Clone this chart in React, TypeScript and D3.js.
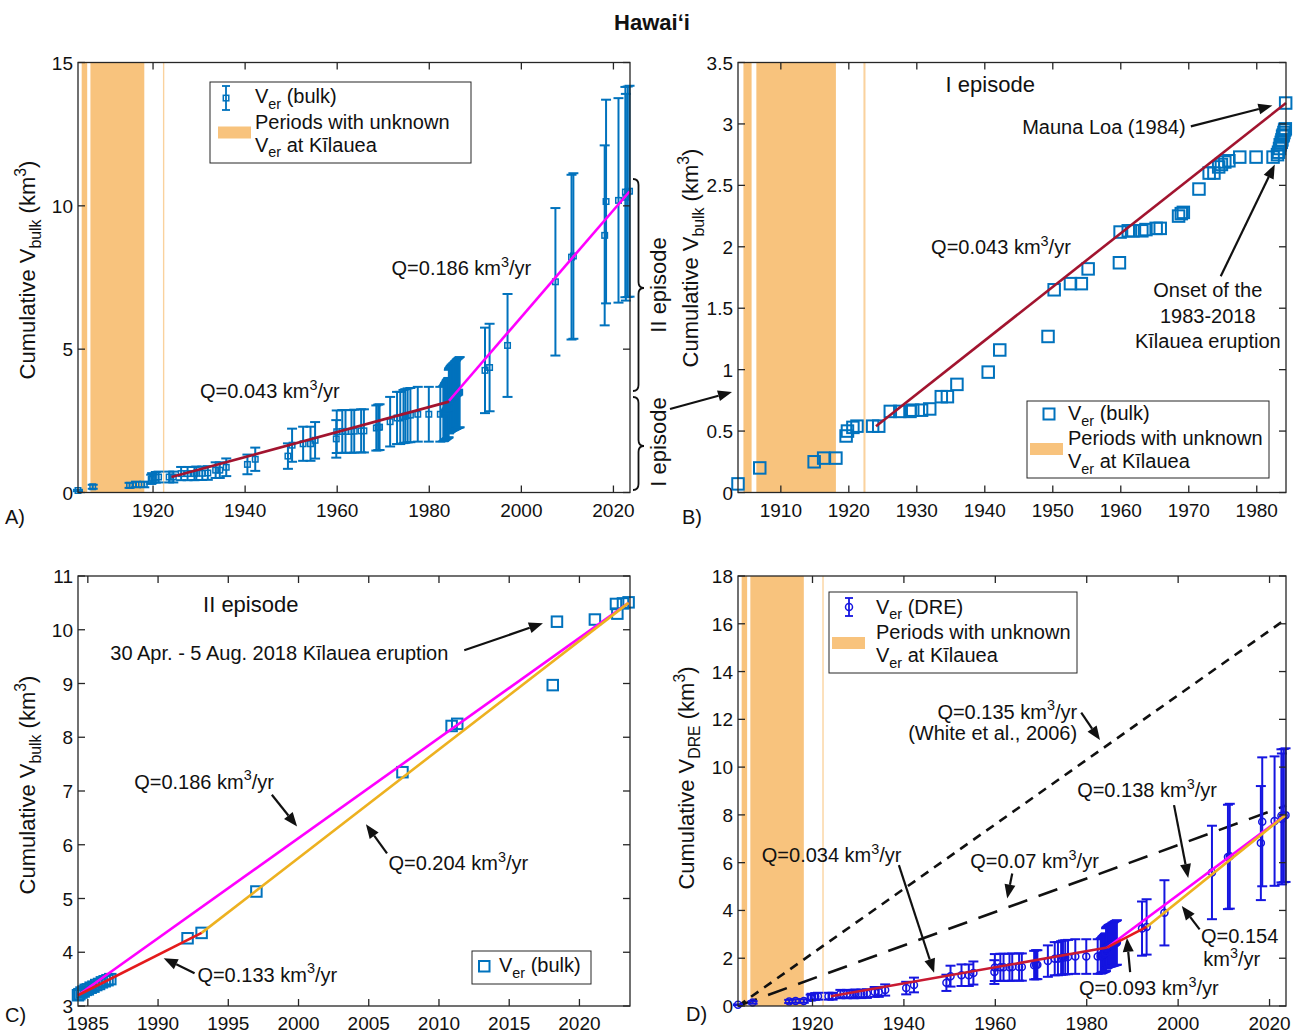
import React from 'react';
import * as d3 from 'd3';

const FONT = "'Liberation Sans', Arial, Helvetica, sans-serif";
const INK = '#111111';
const AXIS = '#262626';
const BLUE = '#0072bd';
const DRE_BLUE = '#1515e0';
const BAND = '#f8c37d';
const WINE = '#a2142f';
const MAGENTA = '#ff00ff';
const GOLD = '#edb120';
const RED = '#e41a1c';
const CRIMSON = '#c81a32';

// ---- data ----
// I episode, eruption year and cumulative volume (km3)
const ep1Year = [1903.7, 1906.9, 1914.9, 1916.3, 1918.1, 1919.6, 1919.8, 1920.6, 1921.2, 1923.5, 1924.4, 1926.1, 1927.5, 1929.0, 1929.4, 1930.7, 1931.9, 1933.6, 1934.5, 1935.9, 1940.5, 1942.2, 1949.3, 1950.2, 1952.6, 1954.2, 1955.2, 1959.8, 1959.9, 1961.1, 1961.8, 1963.1, 1963.7, 1965.2, 1965.8, 1968.5, 1968.9, 1969.2, 1971.5, 1973.0, 1973.7, 1974.4, 1974.8, 1975.3, 1975.9, 1977.5, 1979.9, 1982.4];
const ep1Bulk = [0.07, 0.20, 0.25, 0.28, 0.28, 0.46, 0.50, 0.53, 0.54, 0.54, 0.54, 0.66, 0.66, 0.66, 0.67, 0.67, 0.68, 0.78, 0.78, 0.88, 0.98, 1.16, 1.27, 1.65, 1.70, 1.70, 1.82, 1.87, 2.12, 2.13, 2.13, 2.13, 2.14, 2.15, 2.15, 2.25, 2.27, 2.28, 2.47, 2.60, 2.60, 2.65, 2.67, 2.69, 2.70, 2.73, 2.73, 2.73];
const ep1Dre = [0.05, 0.15, 0.19, 0.21, 0.21, 0.35, 0.38, 0.40, 0.41, 0.41, 0.41, 0.50, 0.50, 0.50, 0.51, 0.51, 0.52, 0.59, 0.59, 0.67, 0.75, 0.88, 0.97, 1.25, 1.29, 1.29, 1.38, 1.42, 1.61, 1.62, 1.62, 1.62, 1.63, 1.63, 1.63, 1.71, 1.73, 1.73, 1.88, 1.98, 1.98, 2.01, 2.03, 2.04, 2.05, 2.07, 2.07, 2.07];

// onset of the 1983-2018 Kilauea eruption + Mauna Loa 1984
const onsetYear = [1983.05, 1983.2, 1983.35, 1983.45, 1983.6, 1983.7, 1983.8, 1983.9, 1984.0, 1984.1, 1984.2, 1984.25];
const onsetBulk = [2.75, 2.77, 2.80, 2.83, 2.85, 2.87, 2.90, 2.91, 2.93, 2.95, 2.96, 3.17];
const onsetDre = [2.09, 2.11, 2.13, 2.15, 2.17, 2.18, 2.20, 2.21, 2.23, 2.24, 2.25, 2.41];

// II episode
const ep2Year = [1984.3, 1984.4, 1984.55, 1984.7, 1984.85, 1985.0, 1985.2, 1985.4, 1985.6, 1985.8, 1986.0, 1986.2, 1986.4, 1986.6, 1992.1, 1993.1, 1997.0, 2007.4, 2010.9, 2011.3, 2018.1, 2018.4, 2021.1, 2022.6, 2022.7, 2023.1, 2023.5];
const ep2Bulk = [3.20, 3.22, 3.25, 3.27, 3.30, 3.31, 3.34, 3.36, 3.39, 3.41, 3.44, 3.46, 3.48, 3.50, 4.26, 4.36, 5.13, 7.35, 8.21, 8.25, 8.97, 10.15, 10.19, 10.48, 10.30, 10.49, 10.51];
const ep2Dre = [2.43, 2.45, 2.47, 2.49, 2.51, 2.52, 2.54, 2.55, 2.58, 2.59, 2.61, 2.63, 2.64, 2.66, 3.24, 3.31, 3.90, 5.59, 6.24, 6.27, 6.82, 7.71, 7.74, 7.96, 7.83, 7.97, 7.99];

const UNC = 0.35; // half length of the error bars, relative to the volume

// periods with unknown Ver at Kilauea
const gapStart = [1904.5, 1906.4, 1922.15];
const gapEnd = [1905.7, 1918.1, 1922.45];

// fitted trends [year, volume]
const fitBulkEp1 = [[1924.0, 0.54], [1984.3, 3.17]];
const fitBulkEp2 = [[1984.3, 3.20], [2023.5, 10.50]];
const fitBulk8493 = [[1984.3, 3.20], [1993.1, 4.36]];
const fitBulk9323 = [[1993.1, 4.36], [2023.5, 10.50]];
const fitDreEp1 = [[1924.0, 0.41], [1984.5, 2.45]];
const fitDre8493 = [[1984.5, 2.45], [1993.1, 3.31]];
const fitDreEp2 = [[1984.5, 2.45], [2023.5, 7.99]];
const fitDre9323 = [[1993.1, 3.31], [2023.5, 7.99]];
const white2006 = [[1903.7, 0], [2023.6, 16.2]];
const rate007 = [[1903.7, 0], [2023.6, 8.39]];

const ticksA = [1920, 1940, 1960, 1980, 2000, 2020];
const ticksAy = [0, 5, 10, 15];
const ticksB = [1910, 1920, 1930, 1940, 1950, 1960, 1970, 1980];
const ticksBy = [0, 0.5, 1, 1.5, 2, 2.5, 3, 3.5];
const ticksC = [1985, 1990, 1995, 2000, 2005, 2010, 2015, 2020];
const ticksCy = [3, 4, 5, 6, 7, 8, 9, 10, 11];
const ticksDy = [0, 2, 4, 6, 8, 10, 12, 14, 16, 18];

type S = d3.ScaleLinear<number, number>;
type Seg = { t: string; sub?: boolean; sup?: boolean };

const allYear = [...ep1Year, ...onsetYear, ...ep2Year];
const allBulk = [...ep1Bulk, ...onsetBulk, ...ep2Bulk];
const allDre = [...ep1Dre, ...onsetDre, ...ep2Dre];

function Rich({ x, y, segs, size = 20, anchor = 'start', weight = 'normal', transform }: any) {
  let cur = 0;
  return (
    <text x={x} y={y} fontSize={size} textAnchor={anchor} fontWeight={weight} fill={INK} fontFamily={FONT} transform={transform}>
      {(segs as Seg[]).map((s, i) => {
        const target = s.sub ? size * 0.28 : s.sup ? -size * 0.42 : 0;
        const dy = target - cur;
        cur = target;
        return (
          <tspan key={i} dy={dy} fontSize={s.sub || s.sup ? size * 0.72 : size}>{s.t}</tspan>
        );
      })}
    </text>
  );
}

const q = (v: string): Seg[] => [{ t: `Q=${v} km` }, { t: '3', sup: true }, { t: '/yr' }];
const ver = (rest: string): Seg[] => [{ t: 'V' }, { t: 'er', sub: true }, { t: rest }];
const yLab = (sub: string): Seg[] => [{ t: 'Cumulative V' }, { t: sub, sub: true }, { t: ' (km' }, { t: '3', sup: true }, { t: ')' }];

function Arrow({ x1, y1, x2, y2 }: any) {
  const a = Math.atan2(y2 - y1, x2 - x1);
  const L = 14, w = 5.5;
  const bx = x2 - L * Math.cos(a), by = y2 - L * Math.sin(a);
  const pts = [[x2, y2], [bx + w * Math.sin(a), by - w * Math.cos(a)], [bx - w * Math.sin(a), by + w * Math.cos(a)]];
  return (
    <g>
      <line x1={x1} y1={y1} x2={bx} y2={by} stroke={INK} strokeWidth={2.2} />
      <polygon points={pts.map(p => p.join(',')).join(' ')} fill={INK} />
    </g>
  );
}

const DArrow = ({ x, y, from, to }: any) => (
  <Arrow x1={x(from[0])} y1={y(from[1])} x2={x(to[0])} y2={y(to[1])} />
);

function Axes({ x, y, xTicks, yTicks }: { x: S; y: S; xTicks: number[]; yTicks: number[] }) {
  const [l, r] = x.range();
  const [b, t] = y.range();
  const T = 7;
  return (
    <g fontFamily={FONT} fontSize={19} fill={INK}>
      {xTicks.map(v => (
        <g key={'x' + v}>
          <line x1={x(v)} x2={x(v)} y1={b} y2={b - T} stroke={AXIS} strokeWidth={1.3} />
          <line x1={x(v)} x2={x(v)} y1={t} y2={t + T} stroke={AXIS} strokeWidth={1.3} />
          <text x={x(v)} y={b + 24} textAnchor="middle">{v}</text>
        </g>
      ))}
      {yTicks.map(v => (
        <g key={'y' + v}>
          <line x1={l} x2={l + T} y1={y(v)} y2={y(v)} stroke={AXIS} strokeWidth={1.3} />
          <line x1={r} x2={r - T} y1={y(v)} y2={y(v)} stroke={AXIS} strokeWidth={1.3} />
          <text x={l - 5} y={y(v) + 7} textAnchor="end">{String(v)}</text>
        </g>
      ))}
      <rect x={l} y={t} width={r - l} height={b - t} fill="none" stroke={AXIS} strokeWidth={1.3} />
    </g>
  );
}

function Bands({ x, y }: { x: S; y: S }) {
  const [b, t] = y.range();
  return (
    <g>
      {gapStart.map((s, i) => (
        <rect key={i} x={x(s)} y={t} width={x(gapEnd[i]) - x(s)} height={b - t} fill={BAND} opacity={i === 2 ? 0.75 : 1} />
      ))}
    </g>
  );
}

function ErrorBars({ x, y, xs, vs, color, cap = 5, width = 2 }: any) {
  return (
    <g stroke={color} strokeWidth={width}>
      {(xs as number[]).map((t, i) => {
        const cx = x(t), lo = y(vs[i] * (1 - UNC)), hi = y(vs[i] * (1 + UNC));
        return (
          <g key={i}>
            <line x1={cx} x2={cx} y1={lo} y2={hi} />
            <line x1={cx - cap} x2={cx + cap} y1={lo} y2={lo} />
            <line x1={cx - cap} x2={cx + cap} y1={hi} y2={hi} />
          </g>
        );
      })}
    </g>
  );
}

function Squares({ x, y, xs, vs, size, color = BLUE, width = 2 }: any) {
  return (
    <g fill="none" stroke={color} strokeWidth={width}>
      {(xs as number[]).map((t, i) => (
        <rect key={i} x={x(t) - size / 2} y={y(vs[i]) - size / 2} width={size} height={size} />
      ))}
    </g>
  );
}

function Circles({ x, y, xs, vs }: any) {
  return (
    <g fill="none" stroke={DRE_BLUE} strokeWidth={1.5}>
      {(xs as number[]).map((t, i) => (
        <circle key={i} cx={x(t)} cy={y(vs[i])} r={3.5} />
      ))}
    </g>
  );
}

function Fit({ x, y, pts, color, width = 2.6, dash }: any) {
  const line = d3.line<number[]>().x(d => x(d[0])).y(d => y(d[1]));
  return <path d={line(pts) || ''} fill="none" stroke={color} strokeWidth={width} strokeDasharray={dash} />;
}

function LegendBox({ x, y, w, h }: any) {
  return <rect x={x} y={y} width={w} height={h} fill="#fff" stroke={AXIS} strokeWidth={1} />;
}

function BandLegend({ px, py, tx }: any) {
  return (
    <g>
      <rect x={px} y={py} width={33} height={12} fill={BAND} />
      <text x={tx} y={py + 2} fontSize={20} fontFamily={FONT} fill={INK}>Periods with unknown</text>
      <Rich x={tx} y={py + 25} segs={ver(' at Kīlauea')} />
    </g>
  );
}

function PanelA() {
  const x = d3.scaleLinear().domain([1903.7, 2023.6]).range([78, 630]);
  const y = d3.scaleLinear().domain([0, 15]).range([492.5, 62.5]);
  return (
    <g>
      <Bands x={x} y={y} />
      <ErrorBars x={x} y={y} xs={allYear} vs={allBulk} color={BLUE} />
      <Squares x={x} y={y} xs={allYear} vs={allBulk} size={5.5} width={1.5} />
      <Fit x={x} y={y} pts={fitBulkEp1} color={WINE} />
      <Fit x={x} y={y} pts={fitBulkEp2} color={MAGENTA} />
      <Axes x={x} y={y} xTicks={ticksA} yTicks={ticksAy} />
      <Rich x={x(1971.8)} y={y(7.59)} segs={q('0.186')} />
      <Rich x={x(1930.2)} y={y(3.28)} segs={q('0.043')} />
      <LegendBox x={210} y={82} w={261} h={81} />
      <g stroke={BLUE} strokeWidth={1.8}>
        <line x1={226} x2={226} y1={86} y2={110} />
        <line x1={222} x2={230} y1={86} y2={86} />
        <line x1={222} x2={230} y1={110} y2={110} />
        <rect x={223.3} y={95.3} width={5.5} height={5.5} fill="none" strokeWidth={1.5} />
      </g>
      <Rich x={255} y={103} segs={ver(' (bulk)')} />
      <BandLegend px={218} py={126.5} tx={255} />
      <Rich x={5} y={524} segs={[{ t: 'A)' }]} />
      <Rich transform="translate(35,270) rotate(-90)" x={0} y={0} anchor="middle" size={22} segs={yLab('bulk')} />
    </g>
  );
}

function PanelB() {
  const x = d3.scaleLinear().domain([1903.7, 1984.3]).range([738, 1286]);
  const y = d3.scaleLinear().domain([0, 3.5]).range([492.5, 62.5]);
  return (
    <g>
      <Bands x={x} y={y} />
      <Squares x={x} y={y} xs={[...ep1Year, ...onsetYear]} vs={[...ep1Bulk, ...onsetBulk]} size={11.5} />
      <Fit x={x} y={y} pts={fitBulkEp1} color={WINE} />
      <Axes x={x} y={y} xTicks={ticksB} yTicks={ticksBy} />
      <Rich x={x(1940.8)} y={y(3.26)} anchor="middle" size={22} segs={[{ t: 'I episode' }]} />
      <Rich x={x(1945.5)} y={y(2.92)} segs={[{ t: 'Mauna Loa (1984)' }]} />
      <DArrow x={x} y={y} from={[1970.3, 2.98]} to={[1982.3, 3.15]} />
      <Rich x={x(1932.1)} y={y(1.94)} segs={q('0.043')} />
      <Rich x={x(1972.8)} y={y(1.59)} anchor="middle" segs={[{ t: 'Onset of the' }]} />
      <Rich x={x(1972.8)} y={y(1.38)} anchor="middle" segs={[{ t: '1983-2018' }]} />
      <Rich x={x(1972.8)} y={y(1.18)} anchor="middle" segs={[{ t: 'Kīlauea eruption' }]} />
      <DArrow x={x} y={y} from={[1974.7, 1.76]} to={[1982.65, 2.67]} />
      <LegendBox x={1027} y={401} w={242} h={77} />
      <rect x={1043.5} y={408.5} width={11} height={11} fill="none" stroke={BLUE} strokeWidth={2} />
      <Rich x={1068} y={420} segs={ver(' (bulk)')} />
      <BandLegend px={1030} py={443} tx={1068} />
      <Rich x={682} y={524} segs={[{ t: 'B)' }]} />
      <Rich transform="translate(698,258) rotate(-90)" x={0} y={0} anchor="middle" size={22} segs={yLab('bulk')} />
    </g>
  );
}

function PanelC() {
  const x = d3.scaleLinear().domain([1984.3, 2023.6]).range([78, 630]);
  const y = d3.scaleLinear().domain([3, 11]).range([1006, 576]);
  return (
    <g>
      <Squares x={x} y={y} xs={ep2Year} vs={ep2Bulk} size={10.5} />
      <Fit x={x} y={y} pts={fitBulkEp2} color={MAGENTA} />
      <Fit x={x} y={y} pts={fitBulk9323} color={GOLD} />
      <Fit x={x} y={y} pts={fitBulk8493} color={RED} />
      <Axes x={x} y={y} xTicks={ticksC} yTicks={ticksCy} />
      <Rich x={x(1996.6)} y={y(10.33)} anchor="middle" size={22} segs={[{ t: 'II episode' }]} />
      <Rich x={x(1986.6)} y={y(9.44)} segs={[{ t: '30 Apr. - 5 Aug. 2018 Kīlauea eruption' }]} />
      <DArrow x={x} y={y} from={[2011.8, 9.62]} to={[2017.4, 10.12]} />
      <Rich x={x(1988.3)} y={y(7.04)} segs={q('0.186')} />
      <DArrow x={x} y={y} from={[1998.1, 6.93]} to={[1999.9, 6.34]} />
      <Rich x={x(2006.4)} y={y(5.53)} segs={q('0.204')} />
      <DArrow x={x} y={y} from={[2006.3, 5.84]} to={[2004.8, 6.38]} />
      <Rich x={x(1992.8)} y={y(3.45)} segs={q('0.133')} />
      <DArrow x={x} y={y} from={[1992.6, 3.61]} to={[1990.4, 3.89]} />
      <LegendBox x={472} y={951} w={119} h={33} />
      <rect x={479} y={961} width={10.5} height={10.5} fill="none" stroke={BLUE} strokeWidth={2} />
      <Rich x={499} y={972} segs={ver(' (bulk)')} />
      <Rich x={5} y={1022} segs={[{ t: 'C)' }]} />
      <Rich transform="translate(35,785) rotate(-90)" x={0} y={0} anchor="middle" size={22} segs={yLab('bulk')} />
    </g>
  );
}

function PanelD() {
  const x = d3.scaleLinear().domain([1903.7, 2023.6]).range([738, 1286]);
  const y = d3.scaleLinear().domain([0, 18]).range([1006, 576]);
  return (
    <g>
      <Bands x={x} y={y} />
      <Fit x={x} y={y} pts={white2006} color={INK} width={2.6} dash="9,7" />
      <Fit x={x} y={y} pts={rate007} color={INK} width={2.6} dash="20,12" />
      <ErrorBars x={x} y={y} xs={allYear} vs={allDre} color={DRE_BLUE} />
      <Circles x={x} y={y} xs={allYear} vs={allDre} />
      <Fit x={x} y={y} pts={fitDreEp1} color={CRIMSON} />
      <Fit x={x} y={y} pts={fitDreEp2} color={MAGENTA} />
      <Fit x={x} y={y} pts={fitDre9323} color={GOLD} />
      <Fit x={x} y={y} pts={fitDre8493} color={RED} />
      <Axes x={x} y={y} xTicks={ticksA} yTicks={ticksDy} />
      <Rich x={x(1977.9)} y={y(12.03)} anchor="end" segs={q('0.135')} />
      <Rich x={x(1977.9)} y={y(11.13)} anchor="end" segs={[{ t: '(White et al., 2006)' }]} />
      <DArrow x={x} y={y} from={[1978.8, 12.28]} to={[1982.9, 11.13]} />
      <Rich x={x(1908.9)} y={y(6.03)} segs={q('0.034')} />
      <DArrow x={x} y={y} from={[1938.9, 5.9]} to={[1946.6, 1.39]} />
      <Rich x={x(1954.5)} y={y(5.76)} segs={q('0.07')} />
      <DArrow x={x} y={y} from={[1963.7, 5.55]} to={[1962.6, 4.5]} />
      <Rich x={x(1977.9)} y={y(8.75)} segs={q('0.138')} />
      <DArrow x={x} y={y} from={[1999.1, 8.41]} to={[2002.2, 5.36]} />
      <Rich x={x(2005.0)} y={y(2.64)} segs={[{ t: 'Q=0.154' }]} />
      <Rich x={x(2005.5)} y={y(1.67)} segs={[{ t: 'km' }, { t: '3', sup: true }, { t: '/yr' }]} />
      <DArrow x={x} y={y} from={[2004.7, 3.21]} to={[2000.8, 4.19]} />
      <Rich x={x(1978.3)} y={y(0.46)} segs={q('0.093')} />
      <DArrow x={x} y={y} from={[1989.5, 1.42]} to={[1988.8, 2.85]} />
      <LegendBox x={829} y={592} w={248} h={81} />
      <g stroke={DRE_BLUE} strokeWidth={1.8}>
        <line x1={849} x2={849} y1={598} y2={616} />
        <line x1={845} x2={853} y1={598} y2={598} />
        <line x1={845} x2={853} y1={616} y2={616} />
        <circle cx={849} cy={607} r={3.5} fill="none" strokeWidth={1.5} />
      </g>
      <Rich x={876} y={613.5} segs={ver(' (DRE)')} />
      <BandLegend px={832} py={637} tx={876} />
      <Rich x={686} y={1021} segs={[{ t: 'D)' }]} />
      <Rich transform="translate(694,778) rotate(-90)" x={0} y={0} anchor="middle" size={22} segs={yLab('DRE')} />
    </g>
  );
}

function brace(x0: number, y1: number, y2: number, ym: number, d: number) {
  const h = x0 + d / 2, r = 6;
  return `M${x0},${y1} Q${h},${y1} ${h},${y1 + r} L${h},${ym - r} Q${h},${ym} ${x0 + d},${ym} ` +
    `Q${h},${ym} ${h},${ym + r} L${h},${y2 - r} Q${h},${y2} ${x0},${y2}`;
}

export default function App() {
  return (
    <svg width={1303} height={1036} style={{ position: 'absolute', left: 0, top: 0, display: 'block' }} fontFamily={FONT}>
      <rect width={1303} height={1036} fill="#fff" />
      <text x={652} y={30} textAnchor="middle" fontSize={22} fontWeight="bold" fill={INK}>Hawaiʻi</text>
      <PanelA />
      <PanelB />
      <PanelC />
      <PanelD />
      <path d={brace(633, 179, 391, 288, 11)} fill="none" stroke={INK} strokeWidth={1.8} />
      <path d={brace(633, 397, 490, 446, 11)} fill="none" stroke={INK} strokeWidth={1.8} />
      <Rich transform="translate(666,285) rotate(-90)" x={0} y={0} anchor="middle" size={22} segs={[{ t: 'II episode' }]} />
      <Rich transform="translate(666,442) rotate(-90)" x={0} y={0} anchor="middle" size={22} segs={[{ t: 'I episode' }]} />
      <Arrow x1={670} y1={409} x2={732} y2={392} />
    </svg>
  );
}
